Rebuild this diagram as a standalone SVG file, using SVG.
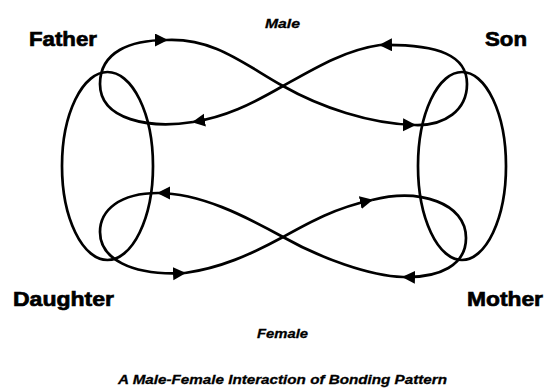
<svg xmlns="http://www.w3.org/2000/svg" width="545" height="389" viewBox="0 0 545 389">
<defs>
<marker id="arr" markerUnits="userSpaceOnUse" markerWidth="14" markerHeight="14" refX="12" refY="6.5" orient="auto">
<path d="M0,0 L13,6.5 L0,13 z" fill="#000"/>
</marker>
<style>
.line{fill:none;stroke:#000;stroke-width:2.7}
.arrow{marker-end:url(#arr)}
.role{font-family:"Liberation Sans",Arial,sans-serif;font-weight:bold;font-size:21px;fill:#000;stroke:#000;stroke-width:0.7}
.lab{font-family:"Liberation Sans",Arial,sans-serif;font-weight:bold;font-style:italic;font-size:13px;fill:#000;stroke:#000;stroke-width:0.3}
</style>
</defs>
<rect width="545" height="389" fill="#fff"/>
<g id="father"><text class="role" x="29" y="46" textLength="68" lengthAdjust="spacingAndGlyphs">Father</text></g>
<g id="son"><text class="role" x="485" y="46" textLength="42" lengthAdjust="spacingAndGlyphs">Son</text></g>
<g id="daughter"><text class="role" x="13" y="306" textLength="101" lengthAdjust="spacingAndGlyphs">Daughter</text></g>
<g id="mother"><text class="role" x="467" y="306" textLength="76" lengthAdjust="spacingAndGlyphs">Mother</text></g>
<g id="male"><text class="lab" x="265" y="28" textLength="35" lengthAdjust="spacingAndGlyphs">Male</text></g>
<g id="female"><text class="lab" x="257" y="338" textLength="51" lengthAdjust="spacingAndGlyphs">Female</text></g>
<g id="caption"><text class="lab" x="118" y="384" textLength="329" lengthAdjust="spacingAndGlyphs">A Male-Female Interaction of Bonding Pattern</text></g>
<g id="connectors">
<ellipse class="line" cx="107.5" cy="166" rx="45.5" ry="94"/>
<ellipse class="line" cx="462" cy="166" rx="44" ry="94"/>
<path class="line arrow" d="M193,122 C150,129 100,120 100,84 C100,52 130,40 167,40"/>
<path class="line arrow" d="M167,40 C215,38 245,65 283,86 C320,107 370,124 415,125"/>
<path class="line arrow" d="M415,125 C445,126 467,110 467,84 C467,56 440,44 380,45"/>
<path class="line arrow" d="M380,45 C345,50 315,68 283,86 C250,105 225,117 193,122"/>
<path class="line arrow" d="M403,277 C370,276 320,258 283,237 C245,216 200,193 158,193"/>
<path class="line arrow" d="M158,193 C120,193 100,210 100,232 C100,258 130,276 185,273"/>
<path class="line arrow" d="M185,273 C220,268 250,255 283,237 C310,222 335,208 372,200"/>
<path class="line arrow" d="M372,200 C420,188 466,203 466,238 C466,265 440,278 403,277"/>
</g>
</svg>
